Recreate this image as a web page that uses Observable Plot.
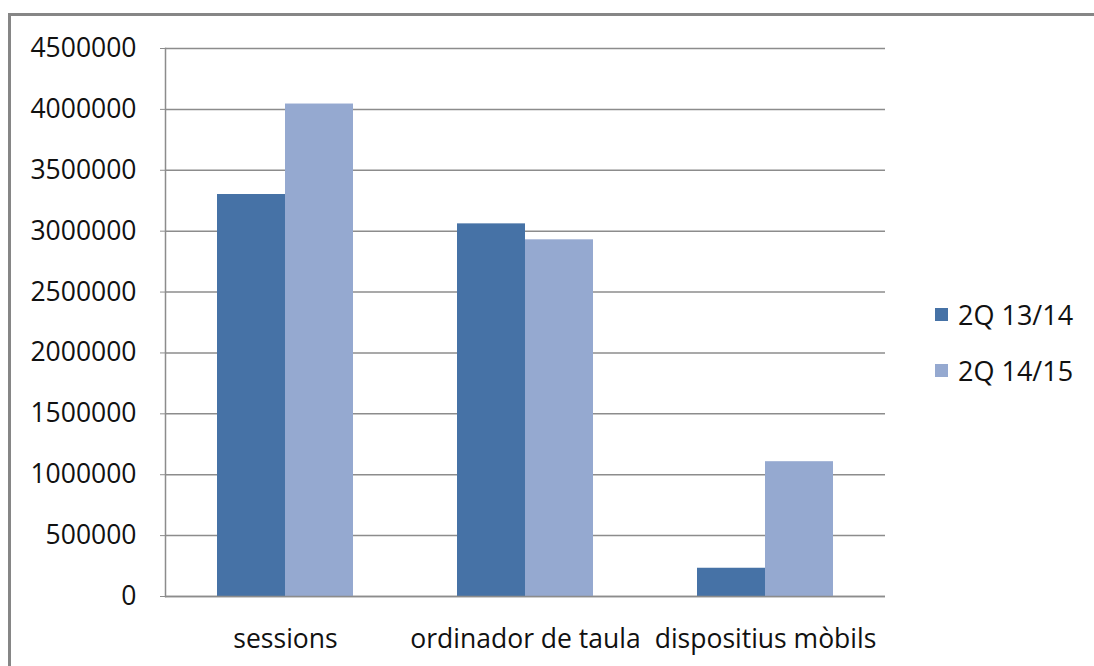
<!DOCTYPE html>
<html>
<head>
<meta charset="utf-8">
<script src="https://cdn.jsdelivr.net/npm/d3@7"></script>
<script src="https://cdn.jsdelivr.net/npm/@observablehq/plot@0.6"></script>
<style>
  html, body { margin: 0; padding: 0; background: #fff; }
  #wrap { position: relative; width: 1094px; height: 666px; overflow: hidden; font-family: "Open Sans", sans-serif; }
  #border { position: absolute; left: 8px; top: 13px; width: 1200px; height: 800px; border-left: 3px solid #868686; border-top: 3px solid #868686; box-sizing: border-box; }
  #chart { position: absolute; left: 0; top: 0; }
  .legend { position: absolute; left: 935px; font-size: 27px; color: #111; display: flex; align-items: center; line-height: 1; }
  .legend .sw { width: 13px; height: 13px; margin-right: 10px; }
</style>
</head>
<body>
<div id="wrap">
  <div id="border"></div>
  <div id="chart"></div>
  <div id="legend"></div>
</div>
<script>
const categories = ["sessions", "ordinador de taula", "dispositius mòbils"];
const series = ["2Q 13/14", "2Q 14/15"];
const values1314 = [3301000, 3060000, 232000];
const values1415 = [4044000, 2929000, 1107000];
const yTicks = [0, 500000, 1000000, 1500000, 2000000, 2500000, 3000000, 3500000, 4000000, 4500000];
const colors = ["#4672a6", "#95a9d0"];

const data = [];
categories.forEach((c, i) => {
  data.push({category: c, series: series[0], value: values1314[i]});
  data.push({category: c, series: series[1], value: values1415[i]});
});

const plot = Plot.plot({
  width: 1094,
  height: 666,
  marginLeft: 165,
  marginRight: 209,
  marginTop: 48,
  marginBottom: 70,
  style: {fontFamily: "'Open Sans', sans-serif", fontSize: "26.5px", color: "#111", background: "transparent", overflow: "visible"},
  fx: {domain: categories, padding: 0, label: null},
  x: {domain: series, paddingInner: 0, paddingOuter: 0.75, axis: null},
  y: {domain: [0, 4500000], label: null},
  color: {domain: series, range: colors},
  marks: [
    Plot.ruleY(yTicks, {stroke: "#8c8c8c", strokeWidth: 1.5}),
    Plot.barY(data, {fx: "category", x: "series", y: "value", fill: "series"}),
    Plot.ruleY([0], {stroke: "#8c8c8c", strokeWidth: 1.5}),
    Plot.frame({anchor: "left", facetAnchor: "left", stroke: "#8c8c8c", strokeWidth: 1.5}),
    Plot.axisY({ticks: yTicks, tickFormat: d => String(d), tickSize: 5, tickPadding: 24, stroke: "#8c8c8c", label: null, fontSize: 26.5}),
    Plot.axisFx({anchor: "bottom", tickSize: 0, tickPadding: 33, label: null, fontSize: 26.5})
  ]
});
document.getElementById("chart").appendChild(plot);

const legend = document.getElementById("legend");
const legendTops = [301, 357];
series.forEach((s, i) => {
  const item = document.createElement("div");
  item.className = "legend";
  item.style.top = legendTops[i] + "px";
  const sw = document.createElement("div");
  sw.className = "sw";
  sw.style.background = colors[i];
  const t = document.createElement("span");
  t.textContent = s;
  item.appendChild(sw);
  item.appendChild(t);
  legend.appendChild(item);
});
</script>
</body>
</html>
